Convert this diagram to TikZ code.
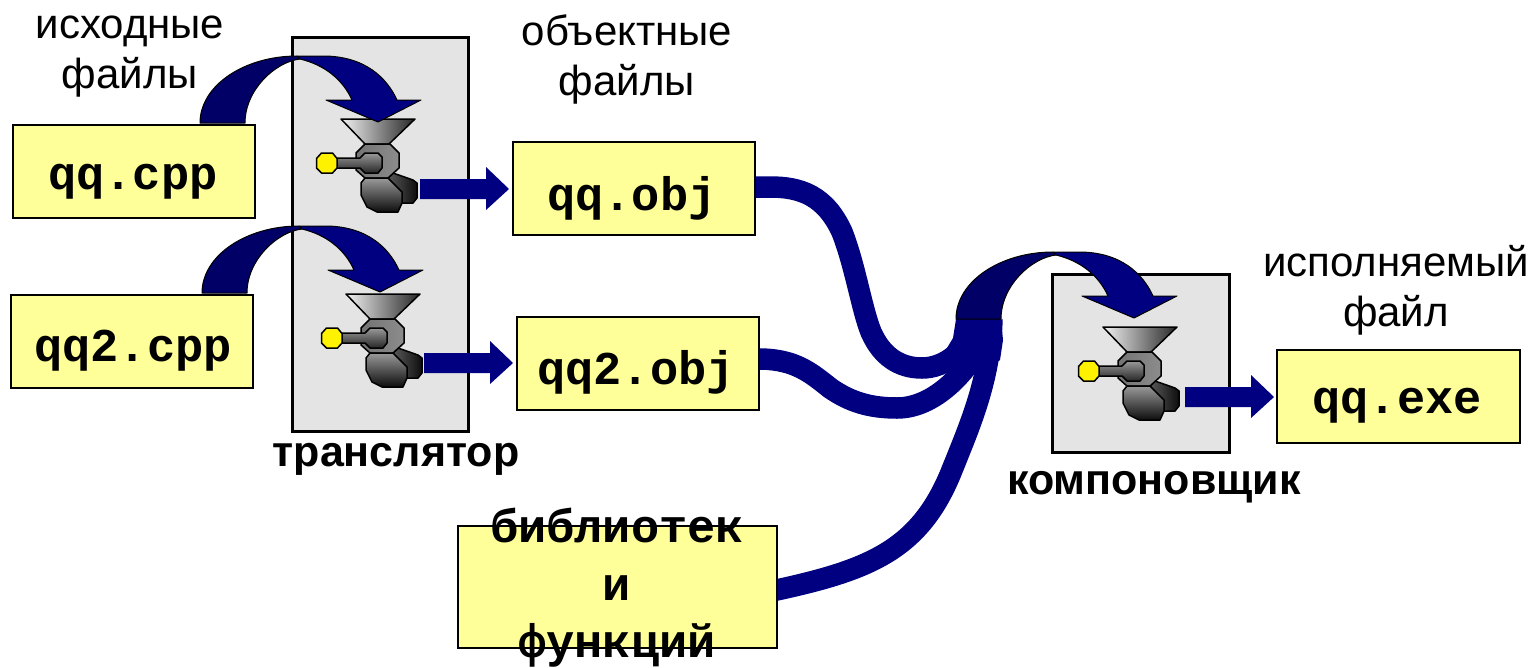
\documentclass[tikz,border=0pt]{standalone}
\usepackage{fontspec}
\usetikzlibrary{calc}
\setmainfont{Liberation Sans}
\newfontfamily\monob[Ligatures=NoCommon]{Liberation Mono}
\definecolor{navyA}{HTML}{000080}
\definecolor{navyB}{HTML}{000066}
\definecolor{boxY}{HTML}{FFFF99}
\definecolor{panelG}{HTML}{E4E4E4}
\pgfdeclarelayer{ribbons}
\pgfsetlayers{ribbons,main}
\tikzset{
  x=1pt,y=-1pt,
  ybox/.style={draw=black,line width=2pt,fill=boxY,inner sep=0pt,anchor=north west},
  panel/.style={draw=black,line width=2.5pt,fill=panelG},
  code/.style={font=\monob\bfseries\fontsize{47}{57.5}\selectfont,inner sep=0pt,align=center},
  lab/.style={font=\fontsize{42}{50}\selectfont,inner sep=0pt,align=center},
  blab/.style={font=\bfseries\fontsize{43}{50}\selectfont,inner sep=0pt,align=center},
  ribbon/.style={draw=navyA,line width=21.5pt,line cap=butt},
  gline/.style={draw=black,line width=1.5pt,line join=round},
  aline/.style={draw=black,line width=1pt,line join=round},
  grinder/.pic={
    \shade[gline,left color=white!95!black,right color=black!85] (0,0)--(74,0)--(48,25)--(24,25)--cycle;
    \shade[gline,left color=black!65,right color=black!95] (52,54)--(72,61)--(76,64)--(76,79)--(72,84)--(61,84)--(47,59)--cycle;
    \shade[gline,left color=black!55,right color=black!45] (15,34)--(24,25)--(49,25)--(58,34)--(58,49)--(47,59)--(24,59)--(15,51)--cycle;
    \shade[gline,top color=black!40,bottom color=black!95] (24,59)--(47,59)--(61,73)--(61,84)--(57,93)--(36,93)--(26,88)--(20,76)--(20,64)--cycle;
    \shade[gline,top color=black!40,bottom color=black!85] (-4,39)--(19,39)--(24,34)--(37,34)--(41,38)--(41,49)--(37,54)--(24,54)--(19,49)--(-4,49)--cycle;
    \filldraw[gline,fill=yellow] (-24.5,39.5)--(-19.5,34)--(-8.5,34)--(-4,39.5)--(-4,49)--(-8.5,54)--(-19.5,54)--(-24.5,49)--cycle;
  },
  curvedarrow/.pic={
    \filldraw[aline,fill=navyB] (0,0) .. controls (0,-38) and (45,-67) .. (97,-67) -- (100,-64) .. controls (75,-61) and (45,-33) .. (45,0) -- cycle;
    \filldraw[aline,fill=navyA] (97,-67) -- (123,-67) .. controls (165,-67) and (187,-45) .. (197,-23) -- (221,-23) -- (178,-1) -- (126,-23) -- (152,-23) .. controls (143,-43) and (125,-58) .. (100,-64) -- cycle;
  },
  blockarrow/.pic={
    \fill[navyA] (0,0)--(66,0)--(66,-12)--(89,10)--(66,31)--(66,20)--(0,20)--cycle;
  }
}
\begin{document}
\begin{tikzpicture}
\useasboundingbox (0,0) rectangle (1533,667);
% panels
\node[panel,inner sep=0pt,anchor=north west,minimum width=176pt,minimum height=394pt] (trans) at (291,36) {};
\node[panel,inner sep=0pt,anchor=north west,minimum width=177pt,minimum height=178pt] (link) at (1051,273) {};
% boxes
\node[ybox,minimum width=242pt,minimum height=93pt] (cpp1) at (12,124) {};
\node[ybox,minimum width=242pt,minimum height=93pt] (cpp2) at (10,294) {};
\node[ybox,minimum width=242pt,minimum height=93pt] (obj1) at (512,141) {};
\node[ybox,minimum width=242pt,minimum height=93pt] (obj2) at (516,316) {};
\node[ybox,minimum width=243pt,minimum height=93pt] (exe) at (1276,349) {};
\node[ybox,minimum width=319pt,minimum height=122pt] (lib) at (457,525) {};
\node[code] (t1) at (133,182) {qq.cpp};
\node[code] (t2) at (133,351) {qq2.cpp};
\node[code] (t3) at (632,198) {qq.obj};
\node[code] (t4) at (636,372) {qq2.obj};
\node[code] (t5) at (1397,406) {qq.exe};
\node[code] (t6) at (617,588) {библиотек\\и\\функций};
% labels
\node[lab] (l1) at (130,57) {исходные\\файлы};
\node[lab] (l2) at (627,59) {объектные\\файлы};
\node[lab] (l3) at (1396,290) {исполняемый\\файл};
\node[blab] (l4) at (396,459) {транслятор};
\node[blab] (l5) at (1154,487) {компоновщик};
% connectors, under the boxes
\coordinate (m1) at (972,325);
\coordinate (m2) at (978,350);
\coordinate (m3) at (992,319);
\begin{pgfonlayer}{ribbons}
\fill[white] (0,0) rectangle (1533,667);
\draw[ribbon] ($(obj1.east |- 0,187)+(-6,0)$) -- (770,187) .. controls (800,187) and (825,195) .. (842,232) .. controls (855,265) and (862,310) .. (871,332) .. controls (882,357) and (900,368) .. (922,368) .. controls (945,368) and (968,350) .. (m1);
\draw[ribbon] ($(obj2.east |- 0,359)+(-6,0)$) -- (762,359) .. controls (795,360) and (810,372) .. (830,388) .. controls (850,402) and (870,408) .. (897,408) .. controls (930,408) and (960,380) .. (m2);
\draw[ribbon] ($(lib.east |- 0,590)+(-6,1)$) .. controls (870,570) and (920,550) .. (952,470) .. controls (970,425) and (990,380) .. (m3);
\fill[navyA] (956,319)--(953,338)--(947,348)--(960,362)--(977,377)--(1000,360)--(1003,340)--(1001,319)--cycle;
\end{pgfonlayer}
% machines
\pic at (341,119) {grinder};
\pic at (346,294) {grinder};
\pic at (1103,327) {grinder};
\pic at (200,123) {curvedarrow};
\pic at (202,293) {curvedarrow};
\pic at (956,319) {curvedarrow};
\pic at (420,179) {blockarrow};
\pic at (424,353) {blockarrow};
\pic at (1185,387) {blockarrow};
\end{tikzpicture}
\end{document}
